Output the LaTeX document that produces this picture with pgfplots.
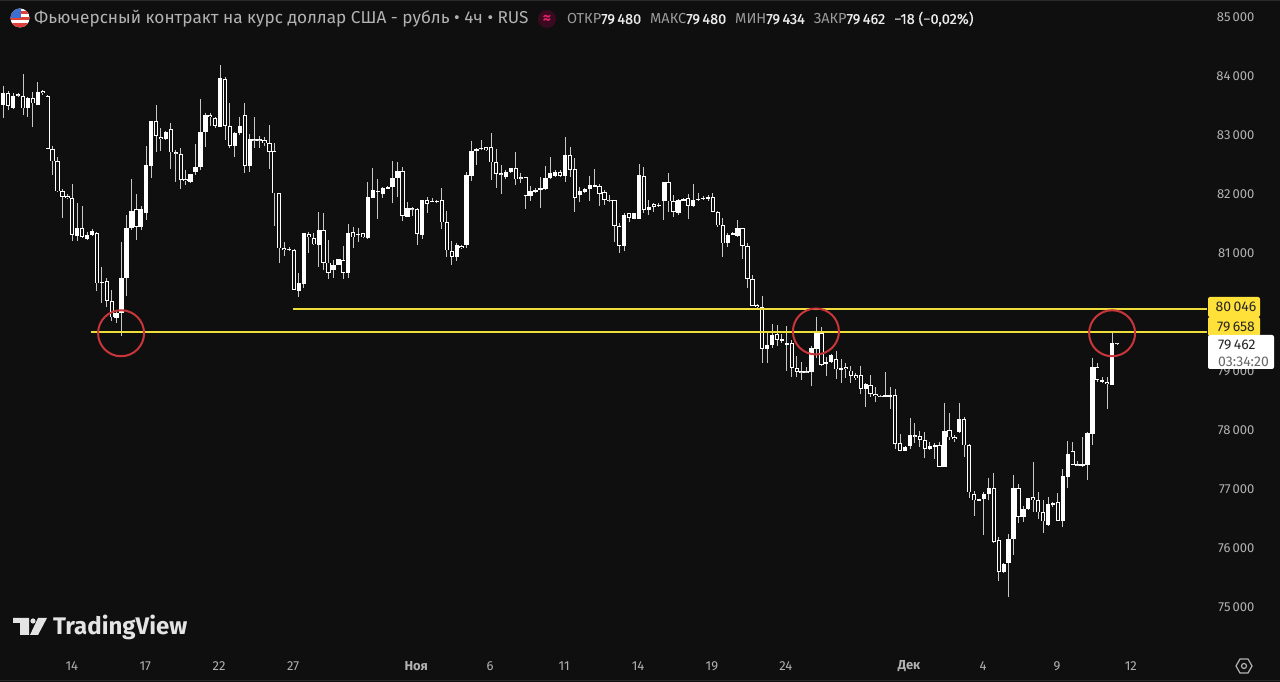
\documentclass[border=0pt]{standalone}
\usepackage{fontspec}
\setmainfont{Fira Sans}
\newfontfamily\med[FakeBold=0.4]{Fira Sans}
\usepackage{pgfplots}
\usepackage{pgfplotstable}
\pgfplotsset{compat=1.18}
\definecolor{bg}{HTML}{0F0F0F}
\definecolor{axt}{HTML}{B2B2B2}
\definecolor{wick}{HTML}{C8C8C8}
\definecolor{yel}{HTML}{EFDD3A}
\definecolor{yelb}{HTML}{FFE13A}
\definecolor{redc}{HTML}{C9363A}
\definecolor{badge}{HTML}{3A0A20}
\definecolor{pinkc}{HTML}{E0206A}
\definecolor{flagr}{HTML}{E0403A}
\definecolor{flagb}{HTML}{3B6FD0}
\definecolor{ohlcg}{HTML}{9A9A9A}
\definecolor{logoc}{HTML}{E4E4E4}
\definecolor{edge}{HTML}{2A2A2A}
\pgfplotstableread{
o h l c
83508 83830 83282 83717
83706 83751 83423 83491
83463 83706 83435 83666
83689 83717 83638 83672
83661 84034 83339 83452
83452 83649 83299 83621
83621 83734 83130 83536
83508 83904 83508 83734
83740 83763 83683 83706
83666 83678 82762 82762
82768 82813 82322 82553
82553 82632 82039 82045
82045 82079 81599 81955
81971 81994 81909 81932
81932 82164 81203 81310
81288 81841 81209 81429
81429 81802 81248 81276
81243 81361 81220 81310
81305 81401 81293 81373
81344 81356 80361 80485
80485 80768 80158 80514
80519 80570 80090 80192
80192 80372 79853 79909
79892 80022 79807 79977
79977 81192 79593 80576
80570 81644 80271 81418
81418 82248 81389 81717
81740 82000 81220 81446
81446 81796 81389 81740
81683 82813 81559 82486
82474 83231 82271 83231
83231 83503 82717 82983
82960 83113 82734 82926
82938 83073 82915 83056
83096 83197 82418 82706
82706 82745 82203 82700
82672 82774 82079 82237
82254 82406 82152 82214
82197 82333 82180 82333
82378 82842 82322 82463
82452 83604 82406 83051
83045 83378 82802 83339
83339 83378 83152 83299
83282 83299 83113 83152
83141 84181 83130 83960
83949 83977 82915 83158
83158 83548 82774 82813
82813 83056 82621 83039
83028 83299 83000 83152
83333 83548 82350 82474
82474 83017 82378 82932
82926 83310 82774 82921
82926 82983 82774 82921
82909 82960 82813 82870
82870 83175 82429 82717
82723 82870 81457 82011
82011 82011 80836 81079
81090 81192 80954 81050
81056 81107 81039 81073
81050 81062 80372 80372
80361 80655 80260 80486
80474 81333 80401 81333
81322 81361 80994 81265
81248 81333 81135 81147
81141 81689 80768 81384
81384 81672 80711 80836
80836 81220 80553 80666
80711 80881 80570 80802
80791 80904 80791 80892
80881 81118 80565 80666
80655 81491 80570 81344
81350 81446 81079 81265
81310 81418 81192 81322
81333 81344 81248 81265
81248 82209 81243 81943
81932 82435 81926 82068
82039 82248 81570 82056
81999 82124 81926 82096
82084 82141 82079 82124
82113 82553 81841 82271
82265 82548 81955 82390
82390 82452 81542 81632
81615 81864 81615 81757
81757 81774 81627 81740
81740 81757 81135 81322
81299 81898 81243 81892
81892 81943 81683 81830
81875 81926 81858 81887
81870 81898 81853 81881
81892 82096 81401 81520
81520 81717 80926 81045
81039 81197 80802 80938
80926 81164 80870 81130
81124 81141 81073 81084
81130 82378 81079 82316
82310 82892 82214 82723
82723 82774 82491 82757
82768 82915 82745 82779
82791 82802 82734 82740
82791 83039 82237 82536
82536 82757 82096 82339
82350 82491 82000 82322
82282 82406 82248 82378
82373 82446 82361 82435
82435 82717 82152 82248
82282 82350 82180 82265
82282 82282 81740 81966
81966 82135 81887 82051
82056 82096 82011 82062
82084 82293 81768 82090
82079 82474 82068 82265
82265 82621 82248 82350
82305 82406 82293 82378
82378 82406 82293 82310
82305 82960 82209 82666
82666 82802 82293 82406
82418 82604 81689 81938
81978 82124 81870 82045
82040 82096 82023 82085
82079 82305 81887 82147
82136 82418 82124 82147
82136 82170 81797 81995
82034 82068 81814 81899
81899 81983 81870 81887
81893 81899 81192 81458
81458 81514 81006 81119
81119 81672 81040 81644
81672 81684 81531 81588
81582 81672 81576 81672
81582 82509 81571 82317
82311 82452 81672 81729
81729 81898 81644 81774
81831 81853 81701 81785
81802 81853 81774 81814
81876 82209 81559 82204
82198 82350 81701 81876
81876 81983 81616 81689
81672 81910 81644 81898
81893 81932 81876 81915
81927 82000 81571 81797
81797 82170 81785 81898
81898 82011 81876 81921
81921 81966 81898 81938
81927 81983 81887 81949
81955 82023 81695 81701
81701 81712 81447 81469
81475 81599 80927 81164
81164 81333 81096 81311
81317 81362 81300 81328
81288 81559 81277 81418
81418 81418 80893 81119
81119 81175 80401 80559
80559 80627 80107 80107
80113 80136 80062 80079
80079 80277 79141 79373
79373 79667 79130 79435
79441 79791 79384 79605
79621 79780 79424 79525
79514 79627 79469 79537
79463 79768 79006 79469
79469 79525 78893 79056
79056 79254 78893 78989
78994 79158 78847 78989
78994 79062 78972 78989
78989 79424 78746 79384
79373 79910 79215 79650
79650 79751 79085 79102
79130 79243 78915 79147
79158 79288 79141 79266
79198 79345 78859 79028
79028 79198 78802 79057
79062 79141 78876 79028
79006 79085 78802 78921
78927 78960 78847 78887
78927 79085 78610 78695
78695 78802 78396 78780
78768 78932 78565 78610
78610 78723 78480 78571
78576 78599 78554 78565
78559 78977 78554 78588
78582 78723 78356 78588
78599 78689 77672 77768
77785 77932 77638 77650
77650 77729 77644 77712
77734 78203 77672 77921
77910 78124 77785 77898
77893 77989 77706 77830
77825 77972 77520 77678
77684 77791 77661 77729
77734 77785 77503 77740
77746 77802 77367 77378
77373 78463 77367 77989
77994 78282 77830 77876
77881 77915 77797 77842
77960 78452 77955 78186
78186 78226 77537 77740
77746 77757 76842 76943
76910 76966 76548 76808
76813 76836 76802 76825
76825 76955 76215 76915
76910 77181 76813 77023
77023 77265 76079 76107
76135 76181 75446 75599
75599 75740 75570 75723
75740 76237 75175 76158
76147 77237 75881 77011
77011 77085 76418 76531
76531 76712 76446 76667
76661 76853 76644 76847
76859 77463 76616 76808
76808 76955 76486 76604
76604 76813 76248 76452
76390 76870 76373 76751
76751 76785 76700 76757
76785 76938 76452 76463
76463 77333 76361 77220
77209 77819 77017 77593
77638 77802 77401 77412
77418 77480 77390 77401
77407 77887 77378 77412
77407 77966 77153 77943
77927 79226 77746 79062
79062 79141 78814 78847
78830 78904 78791 78842
78813 78904 78350 78774
78768 79650 78768 79480
79480 79480 79434 79462
}\candles
\begin{document}
\begin{tikzpicture}[x=1pt,y=1pt]
\fill[bg] (0,0) rectangle (1280,682);
\path[use as bounding box] (0,0) rectangle (1280,682);
\fill[edge] (0,0.5) rectangle (1280,2);
\fill[edge] (0,681) rectangle (1280,682);
\begin{axis}[
  at={(0pt,0pt)}, anchor=south west,
  scale only axis, width=1280pt, height=682pt,
  xmin=-0.67, xmax=259.07, ymin=73729, ymax=85288,
  axis line style={draw=none}, tick style={draw=none},
  major tick length=0pt,
  ytick={75000,76000,77000,78000,79000,81000,82000,83000,84000,85000},
  ytick pos=right,
  yticklabel style={anchor=east, xshift=-22pt, text=axt, font=\fontsize{13}{15}\selectfont,
    /pgf/number format/.cd, 1000 sep={\,}, assume math mode=true},
  scaled y ticks=false,
  xtick={13.9,28.8,43.8,58.8,83.8,98.8,113.8,128.8,143.8,158.8,183.8,198.8,213.8,228.8},
  xticklabels={14,17,22,27,{\bfseries Ноя},6,11,14,19,24,{\bfseries Дек},4,9,12},
  xticklabel style={anchor=center, yshift=16pt, text=axt, font=\fontsize{13}{15}\selectfont},
]
% wicks
\addplot[draw=none, mark=none, forget plot,
  error bars/.cd, y dir=both, y explicit, error mark=none,
  error bar style={line width=1pt, color=wick}]
  table[x expr=\coordindex, y expr={(\thisrow{h}+\thisrow{l})/2}, y error expr={(\thisrow{h}-\thisrow{l})/2+0.01}] {\candles};
% bodies: outer
\addplot[draw=none, mark=none, forget plot,
  error bars/.cd, y dir=both, y explicit, error mark=none,
  error bar style={line width=4.3pt, color=white}]
  table[x expr=\coordindex, y expr={(\thisrow{o}+\thisrow{c})/2}, y error expr={max(abs(\thisrow{o}-\thisrow{c})/2,8.5)}] {\candles};
% bodies: hollow interior of falling candles
\addplot[draw=none, mark=none, forget plot, unbounded coords=discard,
  error bars/.cd, y dir=both, y explicit, error mark=none,
  error bar style={line width=2.4pt, color=bg}]
  table[x expr=\coordindex, y expr={(\thisrow{c}<\thisrow{o}) ? (\thisrow{o}+\thisrow{c})/2 : nan}, y error expr={max(abs(\thisrow{o}-\thisrow{c})/2-14,0.01)}] {\candles};
% horizontal levels
\addplot[yel, line width=2pt, forget plot] coordinates {(17.8,79658) (244.3,79658)};
\addplot[yel, line width=2pt, forget plot] coordinates {(58.8,80046) (244.3,80046)};
% circles
\addplot[only marks, forget plot, mark=o, mark size=23pt, mark options={draw=redc, line width=2pt}]
  coordinates {(23.9,79640) (164.9,79670) (225,79640)};
\end{axis}
% flag
\begin{scope}
\clip (20,664) circle (9.5);
\fill[white] (10,654) rectangle (30,674);
\fill[flagr] (10,668) rectangle (30,671);
\fill[flagr] (10,662) rectangle (30,665);
\fill[flagr] (10,655) rectangle (30,659);
\fill[flagb] (10,664) rectangle (21,674);
\end{scope}
% title
\node[anchor=west, inner sep=0, text=axt, font=\fontsize{17.2}{19}\selectfont] at (34,663) {Фьючерсный контракт на курс доллар США - рубль • 4ч • RUS};
\fill[badge] (547,663) circle (9);
\node[text=pinkc, inner sep=0, font=\fontsize{16}{17}\selectfont\bfseries] at (547,663) {≈};
% OHLC
\newcommand\lab[1]{\textcolor{ohlcg}{\normalfont #1}}
\node[anchor=west, inner sep=0, text=white!92!black, font=\fontsize{14.5}{16}\selectfont\med] at (567,663) {\lab{ОТКР}79\,480\hspace{9pt}\lab{МАКС}79\,480\hspace{9pt}\lab{МИН}79\,434\hspace{9pt}\lab{ЗАКР}79\,462\hspace{9pt}−18 (−0,02\%)};
% price labels
\fill[yelb, rounded corners=2pt] (1208,365) rectangle (1260,385);
\node[text=black!85, inner sep=0, font=\fontsize{14}{16}\selectfont] at (1236,375) {80\,046};
\fill[yelb, rounded corners=2pt] (1208,346) rectangle (1260,365);
\node[text=black!85, inner sep=0, font=\fontsize{14}{16}\selectfont] at (1236,355.5) {79\,658};
\fill[white, rounded corners=2pt] (1208,313) rectangle (1274,347);
\node[anchor=west, text=black!85, inner sep=0, font=\fontsize{14}{16}\selectfont] at (1218,337) {79\,462};
\node[anchor=west, text=black!60, inner sep=0, font=\fontsize{14}{16}\selectfont] at (1218,320) {03:34:20};
% logo
\fill[logoc] (13,64) -- (29,64) -- (29,47) -- (20,47) -- (20,59) -- (13,59) -- cycle;
\fill[logoc] (33,61) circle (2.6);
\fill[logoc] (47,64) -- (38,64) -- (30,47) -- (38,47) -- cycle;
\node[anchor=west, inner sep=0, text=logoc, font=\fontsize{24}{26}\selectfont\bfseries] at (53,55) {TradingView};
% settings icon
\draw[axt, line width=1.2pt] (1252,16) -- (1248,23) -- (1240,23) -- (1236,16) -- (1240,9) -- (1248,9) -- cycle;
\draw[axt, line width=1.2pt] (1244,16) circle (2.5);
\end{tikzpicture}
\end{document}
